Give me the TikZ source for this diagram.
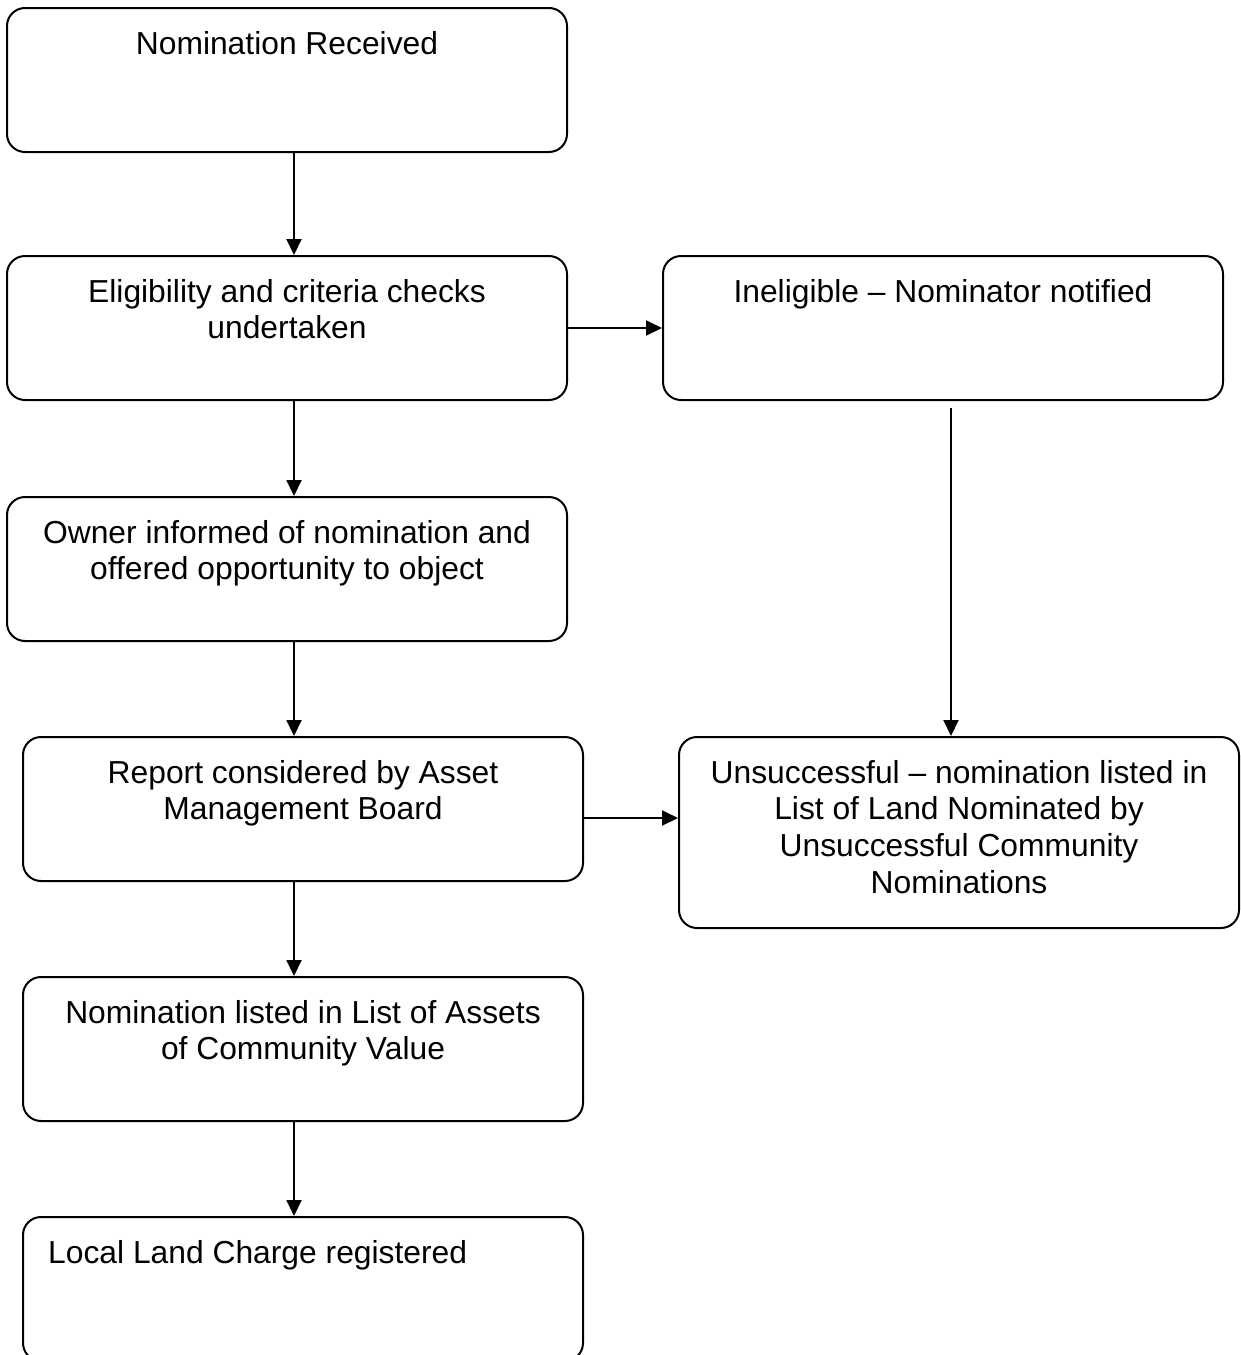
\documentclass[tikz,border=0pt]{standalone}
\usepackage{fontspec}
\setmainfont{Liberation Sans}
\usetikzlibrary{arrows.meta}
\begin{document}
\begin{tikzpicture} [x=1pt, y=-1pt, every text node part/.style={align=center}]
        \tikzset{
          boxstyle/.style={draw, line width=2pt, rounded corners=18pt, minimum width=560pt, minimum height=144pt, inner sep=0pt},
          txtstyle/.style={anchor=north, inner sep=0pt, font=\fontsize{31.8}{36.9}\selectfont},
          arr/.style={line width=2pt, -{Triangle[length=16pt,width=15pt]}},
        }
        \useasboundingbox (0,0) rectangle (1240,1355);
        \coordinate (col) at (294,0);
        \coordinate (drop) at (951,408);
        \coordinate (mid) at (0,818);
        % 
        \node [boxstyle](recv) at (287,80) {};
        \node [boxstyle](elig) at (287,328) {};
        \node [boxstyle](inel) at (943,328) {};
        \node [boxstyle](owner) at (287,569) {};
        \node [boxstyle](report) at (303,809) {};
        \node [boxstyle, minimum height=191pt](unsucc) at (959,832.5) {};
        \node [boxstyle](listed) at (303,1049) {};
        \node [boxstyle](charge) at (303,1289) {};
        % 
        \node [txtstyle](recvT) at ([yshift=-21pt]recv.north) {\strut Nomination Received};
        \node [txtstyle](eligT) at ([yshift=-21pt]elig.north) {\strut Eligibility and criteria checks\\ undertaken};
        \node [txtstyle](inelT) at ([yshift=-21pt]inel.north) {\strut Ineligible – Nominator notified};
        \node [txtstyle](ownerT) at ([yshift=-21pt]owner.north) {\strut Owner informed of nomination and\\ offered opportunity to object};
        \node [txtstyle](reportT) at ([yshift=-21pt]report.north) {\strut Report considered by Asset\\ Management Board};
        \node [txtstyle](unsuccT) at ([yshift=-21pt]unsucc.north) {\strut Unsuccessful – nomination listed in\\ List of Land Nominated by\\ Unsuccessful Community\\ Nominations};
        \node [txtstyle](listedT) at ([yshift=-21pt]listed.north) {\strut Nomination listed in List of Assets\\ of Community Value};
        \node [txtstyle, anchor=north west](chargeT) at ([xshift=26pt,yshift=-21pt]charge.north west) {\strut Local Land Charge registered};
        % 
        \draw [arr] (recv.south -| col) -- (elig.north -| col);
        \draw [arr] (elig.south -| col) -- (owner.north -| col);
        \draw [arr] (owner.south -| col) -- (report.north -| col);
        \draw [arr] (report.south -| col) -- (listed.north -| col);
        \draw [arr] (listed.south -| col) -- (charge.north -| col);
        \draw [arr] (elig.east) -- (inel.west);
        \draw [arr] (drop) -- (drop |- unsucc.north);
        \draw [arr] (report.east |- mid) -- (unsucc.west |- mid);
    \end{tikzpicture}
\end{document}
